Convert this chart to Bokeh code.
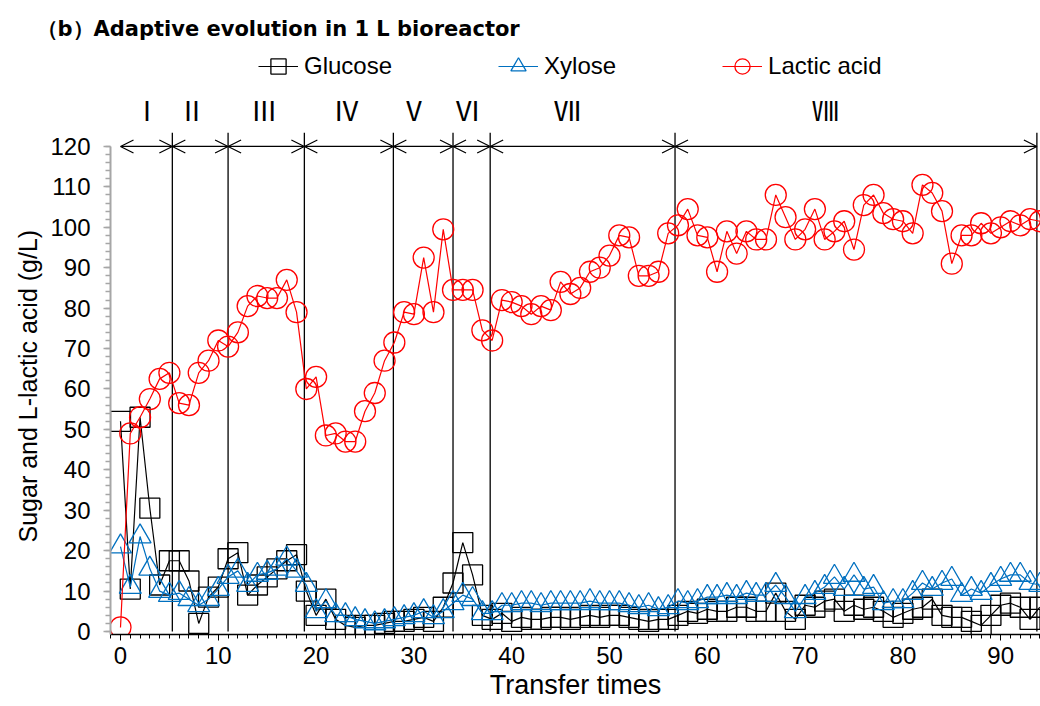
from bokeh.core.properties import value
from bokeh.embed import file_html
from bokeh.models import (Arrow, ColumnDataSource, Legend, LegendItem, OpenHead,
                          Range1d, SingleIntervalTicker, Title)
from bokeh.plotting import figure
from bokeh.resources import INLINE

# ---- data -------------------------------------------------------------
transfer_times = list(range(95))

glucose = [
    52, 10.5, 53, 30.5, 11.5, 17.5, 17.5, 12.5, 2, 8.5,
    11, 18, 19.5, 9, 11.5, 13.5, 15.5, 17.5, 19, 10,
    4, 8, 3, 1.5, 1, 1.5, 1.5, 2, 2.5, 2.5,
    3, 3.5, 2.5, 6, 12, 22, 14, 4, 3, 4.5,
    2.5, 3.5, 3, 3, 3.5, 3.5, 3, 3.5, 4, 3.5,
    4, 4, 3.5, 3, 2.5, 3, 3, 4, 5, 4.5,
    5.5, 5, 5, 6, 6, 5, 5, 9.5, 5, 3,
    6.5, 6, 7.5, 8, 5, 6.5, 5.5, 6, 5, 3.5,
    4.5, 5.5, 6, 8, 4, 3.5, 3.5, 2.5, 1.5, 4,
    6.5, 7, 6, 3, 6,
]

xylose = [
    21, 11, 23.5, 15.5, 10, 9, 9.5, 8, 6.5, 8,
    10.5, 13.5, 15, 11.5, 14, 14.5, 15.5, 18, 15, 11.5,
    5, 7.5, 4, 4, 3, 2.5, 2, 2.5, 3, 3.5,
    4, 5, 3.5, 5, 7, 9, 8, 4.5, 4.5, 6.5,
    6.5, 7, 7, 6.5, 7, 7, 7, 7, 7.5, 7,
    7, 7, 6.5, 6, 6.5, 5.5, 6, 7.5, 7, 7.5,
    8.5, 8.5, 9, 8.5, 9.5, 9, 9, 11.5, 8.5, 5,
    8.5, 9.5, 11, 13.5, 10.5, 14, 10.5, 11, 7, 7.5,
    7.5, 9.5, 12, 10.5, 12, 13, 9, 10.5, 9.5, 11.5,
    13, 14, 14, 12, 11.5,
]

lactic_acid = [
    1, 49, 53, 57.5, 62.5, 64, 56.5, 56, 64, 67,
    72, 70.5, 74, 80.5, 83, 82.5, 82.5, 87, 79, 60,
    63, 48.5, 49, 47, 47, 54.5, 59, 67, 71.5, 79,
    78.5, 92.5, 79, 99.5, 84.5, 84.5, 84.5, 74.5, 72, 82,
    81.5, 80.5, 78.5, 80.5, 79.5, 86.5, 83.5, 85, 89, 90,
    93, 98, 97.5, 88, 88, 89, 98.5, 100.5, 104.5, 98,
    97.5, 89, 99, 93.5, 99, 97, 97, 108, 102.5, 97,
    99.5, 104.5, 97, 99, 101.5, 94.5, 105.5, 108, 103.5, 102,
    101.5, 98.5, 110.5, 108.5, 104, 91, 98, 98, 101, 98.5,
    100, 101.5, 100.5, 102, 101.5,
]

# evolution stages: boundaries (transfer times) and where each name sits
stage_names = ["Ⅰ", "Ⅱ", "Ⅲ", "Ⅳ", "Ⅴ", "Ⅵ", "Ⅶ", "Ⅷ"]
stage_edges = [0, 5.3, 11, 18.8, 27.9, 34, 37.8, 56.7, 93.7]
stage_label_x = [2.7, 7.3, 14.7, 23.1, 30.0, 35.5, 45.7, 72.1]

# ---- layout -----------------------------------------------------------
FONT = "Liberation Sans"
W, H = 1040, 706
LEFT, TOP, BOTTOM = 110, 45, 72
PX_X = 9.78    # pixels per transfer
PX_Y = 4.042   # pixels per g/L
x_start = -(120 - LEFT) / PX_X
x_end = x_start + (W - LEFT) / PX_X
y_start = -3 / PX_Y
y_end = y_start + (H - BOTTOM - TOP) / PX_Y

p = figure(width=W, height=H, title=None,
           x_range=Range1d(x_start, x_end), y_range=Range1d(y_start, y_end),
           output_backend="svg", toolbar_location=None,
           min_border_left=LEFT, min_border_right=0, min_border_top=TOP,
           min_border_bottom=BOTTOM, outline_line_color=None)
p.grid.visible = False

p.add_layout(Title(text="（b）Adaptive evolution in 1 L bioreactor",
                   text_font="DejaVu Sans", text_font_style="bold",
                   text_font_size="21px", text_color="black",
                   align="left", offset=36 - LEFT, standoff=9), "above")

# x axis
xa = p.xaxis[0]
xa.ticker = SingleIntervalTicker(interval=10, num_minor_ticks=10)
xa.bounds = (x_start, x_end)
xa.axis_line_color = "black"
xa.axis_line_width = 1.3
xa.major_tick_line_color = "black"
xa.minor_tick_line_color = "black"
xa.major_tick_in, xa.major_tick_out = 0, 6
xa.minor_tick_in, xa.minor_tick_out = 0, 4
xa.major_label_standoff = 6
xa.major_label_text_font = FONT
xa.major_label_text_font_size = "24px"
xa.major_label_text_color = "black"
xa.axis_label = "Transfer times"
xa.axis_label_standoff = 3
xa.axis_label_text_font = FONT
xa.axis_label_text_font_size = "27px"
xa.axis_label_text_font_style = "normal"
xa.axis_label_text_color = "black"

# y axis
ya = p.yaxis[0]
ya.bounds = (y_start, 120)
ya.ticker = SingleIntervalTicker(interval=10, num_minor_ticks=5)
ya.axis_line_color = "#A6A6A6"
ya.axis_line_width = 2
ya.major_tick_line_color = "#A6A6A6"
ya.minor_tick_line_color = "#A6A6A6"
ya.major_tick_line_width = 1.5
ya.minor_tick_line_width = 1.5
ya.major_tick_in, ya.major_tick_out = 0, 7
ya.minor_tick_in, ya.minor_tick_out = 0, 5
ya.major_label_standoff = 13
ya.major_label_text_font = FONT
ya.major_label_text_font_size = "24px"
ya.major_label_text_color = "black"

# y axis title, placed along the 0-120 span of the axis
p.add_layout(Title(text="Sugar and L-lactic acid (g/L)", text_font=FONT,
                   text_font_style="normal", text_font_size="25px",
                   text_color="black", align="left", offset=92,
                   standoff=11), "left")

# ---- stage markers ----------------------------------------------------
p.segment(x0=stage_edges[1:], y0=0, x1=stage_edges[1:], y1=123.4,
          line_color="black", line_width=1.3)
arrow_src = ColumnDataSource(dict(x0=stage_edges[:-1], x1=stage_edges[1:],
                                  y=[120] * len(stage_names)))
p.add_layout(Arrow(x_start="x0", y_start="y", x_end="x1", y_end="y",
                   source=arrow_src, line_color="black", line_width=1.3,
                   start=OpenHead(size=13, line_color="black", line_width=1.3),
                   end=OpenHead(size=13, line_color="black", line_width=1.3)))
p.text(x=stage_label_x, y=[129.1] * len(stage_names), text=stage_names,
       text_align="center", text_baseline="middle",
       text_font=value("Noto Sans CJK JP"), text_font_size="27px",
       text_color="black")

# ---- series -----------------------------------------------------------
GLU, XYL, LAC = "black", "#0070C0", "#FF0000"
g_line = p.line(transfer_times, glucose, line_color=GLU, line_width=1.2)
g_pts = p.scatter(transfer_times, glucose, marker="square", size=20,
                  line_color=GLU, fill_color=None, line_width=1.3)
x_line = p.line(transfer_times, xylose, line_color=XYL, line_width=1.2)
x_pts = p.scatter(transfer_times, xylose, marker="triangle", size=22,
                  line_color=XYL, fill_color=None, line_width=1.3)
l_line = p.line(transfer_times, lactic_acid, line_color=LAC, line_width=1.2)
l_pts = p.scatter(transfer_times, lactic_acid, marker="circle", size=21,
                  line_color=LAC, fill_color=None, line_width=1.3)

legend = Legend(items=[LegendItem(label="Glucose", renderers=[g_line, g_pts]),
                       LegendItem(label="Xylose", renderers=[x_line, x_pts]),
                       LegendItem(label="Lactic acid", renderers=[l_line, l_pts])],
                orientation="horizontal", location=(258 - LEFT, H - BOTTOM - 85),
                glyph_width=40, glyph_height=38, label_standoff=6, spacing=106,
                padding=0, margin=0, border_line_alpha=0,
                background_fill_alpha=0, label_text_font=FONT,
                label_text_font_size="24px", label_text_color="black")
p.add_layout(legend)

open("out.html", "w").write(file_html(p, INLINE))
